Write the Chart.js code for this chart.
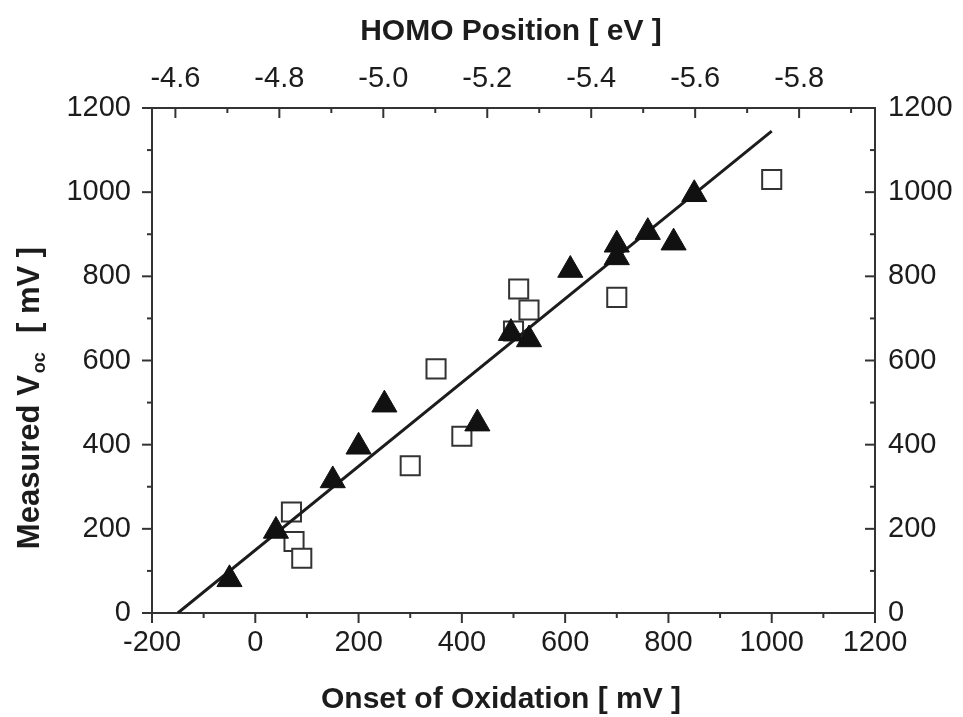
<!DOCTYPE html>
<html>
<head>
<meta charset="utf-8">
<title>Voc vs onset of oxidation</title>
<script src="https://cdn.jsdelivr.net/npm/chart.js@4.4.1/dist/chart.umd.min.js"></script>
<style>
  body { margin: 0; background: #fff; }
  #wrap { width: 963px; height: 717px; }
</style>
</head>
<body>
<div id="wrap"><canvas id="vocChart" width="963" height="717"></canvas></div>
<script>
// Filled triangles: onset of oxidation (mV) vs measured Voc (mV)
const triOnset = [-50, 40, 150, 200, 250, 430, 495, 530, 610, 700, 700, 760, 810, 850];
const triVoc   = [80, 195, 315, 395, 495, 450, 665, 650, 815, 875, 845, 905, 880, 995];

// Open squares
const sqOnset = [70, 75, 90, 300, 350, 400, 500, 510, 530, 700, 1000];
const sqVoc   = [240, 170, 130, 350, 580, 420, 670, 770, 720, 750, 1030];

// Linear fit end points
const fitOnset = [-150, 1000];
const fitVoc   = [0, 1145];

// Axis ranges
const onsetRange = [-200, 1200];
const vocRange = [0, 1200];
const homoRange = [-5.946, -4.555]; // top axis, reversed

const FONT = '"Liberation Sans", Arial, Helvetica, sans-serif';
const INK = '#1c1c1c';

function toPoints(xs, ys) {
    return xs.map((x, i) => ({ x: x, y: ys[i] }));
}

// major ticks every 200, minor every 100
function everyOther(v) {
    return Math.round(v) % 200 === 0 ? v : '';
}

// Draw major/minor tick marks: left & bottom outward, top & right inward
const tickMarks = {
    id: 'tickMarks',
    afterDraw(chart) {
        const ctx = chart.ctx;
        const a = chart.chartArea;
        ctx.save();
        ctx.strokeStyle = '#333';
        ctx.lineWidth = 2;
        const draw = (id, fn) => {
            const s = chart.scales[id];
            s.ticks.forEach(t => {
                const p = s.getPixelForValue(t.value);
                const len = t.label === '' ? 5 : 10;
                ctx.beginPath();
                fn(p, len);
                ctx.stroke();
            });
        };
        draw('x', (p, len) => { ctx.moveTo(p, a.bottom); ctx.lineTo(p, a.bottom + len); });
        draw('y', (p, len) => { ctx.moveTo(a.left, p); ctx.lineTo(a.left - len, p); });
        draw('x2', (p, len) => { ctx.moveTo(p, a.top); ctx.lineTo(p, a.top + len); });
        draw('y2', (p, len) => { ctx.moveTo(a.right, p); ctx.lineTo(a.right - len, p); });
        ctx.restore();
    }
};

// Axis titles (the left one needs a subscript)
const axisTitles = {
    id: 'axisTitles',
    afterDraw(chart) {
        const ctx = chart.ctx;
        ctx.save();
        ctx.fillStyle = INK;
        ctx.textBaseline = 'middle';
        ctx.textAlign = 'center';
        ctx.font = 'bold 30px ' + FONT;
        ctx.fillText('HOMO Position [ eV ]', 511, 32);
        ctx.fillText('Onset of Oxidation [ mV ]', 501, 700);

        // rotated y title: "Measured V" + sub "oc" + " [ mV ]"
        const big = 'bold 31px ' + FONT;
        const small = 'bold 18px ' + FONT;
        ctx.font = big;
        const w1 = ctx.measureText('Measured V').width;
        const w3 = ctx.measureText('  [ mV ]').width;
        ctx.font = small;
        const w2 = ctx.measureText('oc').width + 4;
        const total = w1 + w2 + w3;
        ctx.translate(28, 398);
        ctx.rotate(-Math.PI / 2);
        ctx.textAlign = 'left';
        ctx.textBaseline = 'alphabetic';
        let x = -total / 2;
        ctx.font = big;
        ctx.fillText('Measured V', x, 11);
        x += w1 + 2;
        ctx.font = small;
        ctx.fillText('oc', x, 17);
        x += w2 - 2;
        ctx.font = big;
        ctx.fillText('  [ mV ]', x, 11);
        ctx.restore();
    }
};

const tickFont = { family: FONT, size: 29 };

const ctx = document.getElementById('vocChart').getContext('2d');
const chart = new Chart(ctx, {
    type: 'scatter',
    data: {
        datasets: [
            {
                label: 'triangles',
                data: toPoints(triOnset, triVoc),
                pointStyle: 'triangle',
                pointRadius: 14.5,
                backgroundColor: '#111',
                borderColor: '#111',
                borderWidth: 1,
                order: 0
            },
            {
                label: 'fit',
                data: toPoints(fitOnset, fitVoc),
                showLine: true,
                pointRadius: 0,
                borderColor: INK,
                borderWidth: 3,
                order: 1
            },
            {
                label: 'squares',
                data: toPoints(sqOnset, sqVoc),
                pointStyle: 'rect',
                pointRadius: 13.5,
                backgroundColor: '#fff',
                borderColor: '#333',
                borderWidth: 2,
                order: 2
            }
        ]
    },
    options: {
        responsive: false,
        animation: false,
        layout: { padding: 0 },
        plugins: {
            legend: { display: false },
            tooltip: { enabled: false }
        },
        scales: {
            x: {
                type: 'linear',
                position: 'bottom',
                min: onsetRange[0],
                max: onsetRange[1],
                grid: { display: false, drawTicks: false },
                border: { display: true, color: '#333', width: 2 },
                ticks: {
                    stepSize: 100,
                    includeBounds: false,
                    maxTicksLimit: 100,
                    autoSkip: false,
                    maxRotation: 0,
                    padding: 13,
                    color: INK,
                    font: tickFont,
                    callback: everyOther
                },
                afterFit: s => { s.height = 717 - 613; }
            },
            x2: {
                type: 'linear',
                position: 'top',
                reverse: true,
                min: homoRange[0],
                max: homoRange[1],
                grid: { display: false, drawTicks: false },
                border: { display: true, color: '#333', width: 2 },
                ticks: {
                    stepSize: 0.1,
                    includeBounds: false,
                    maxTicksLimit: 100,
                    autoSkip: false,
                    maxRotation: 0,
                    padding: 12,
                    color: INK,
                    font: tickFont,
                    callback: v => Math.round(v * 10) % 2 === 0 ? v.toFixed(1) : ''
                },
                afterFit: s => { s.height = 108; }
            },
            y: {
                type: 'linear',
                position: 'left',
                min: vocRange[0],
                max: vocRange[1],
                grid: { display: false, drawTicks: false },
                border: { display: true, color: '#333', width: 2 },
                ticks: {
                    stepSize: 100,
                    includeBounds: false,
                    maxTicksLimit: 100,
                    autoSkip: false,
                    padding: 21,
                    color: INK,
                    font: tickFont,
                    callback: everyOther
                },
                afterFit: s => { s.width = 152; }
            },
            y2: {
                type: 'linear',
                position: 'right',
                min: vocRange[0],
                max: vocRange[1],
                grid: { display: false, drawTicks: false },
                border: { display: true, color: '#333', width: 2 },
                ticks: {
                    stepSize: 100,
                    includeBounds: false,
                    maxTicksLimit: 100,
                    autoSkip: false,
                    padding: 13,
                    color: INK,
                    font: tickFont,
                    callback: everyOther
                },
                afterFit: s => { s.width = 963 - 875; }
            }
        }
    },
    plugins: [tickMarks, axisTitles]
});
</script>
</body>
</html>
